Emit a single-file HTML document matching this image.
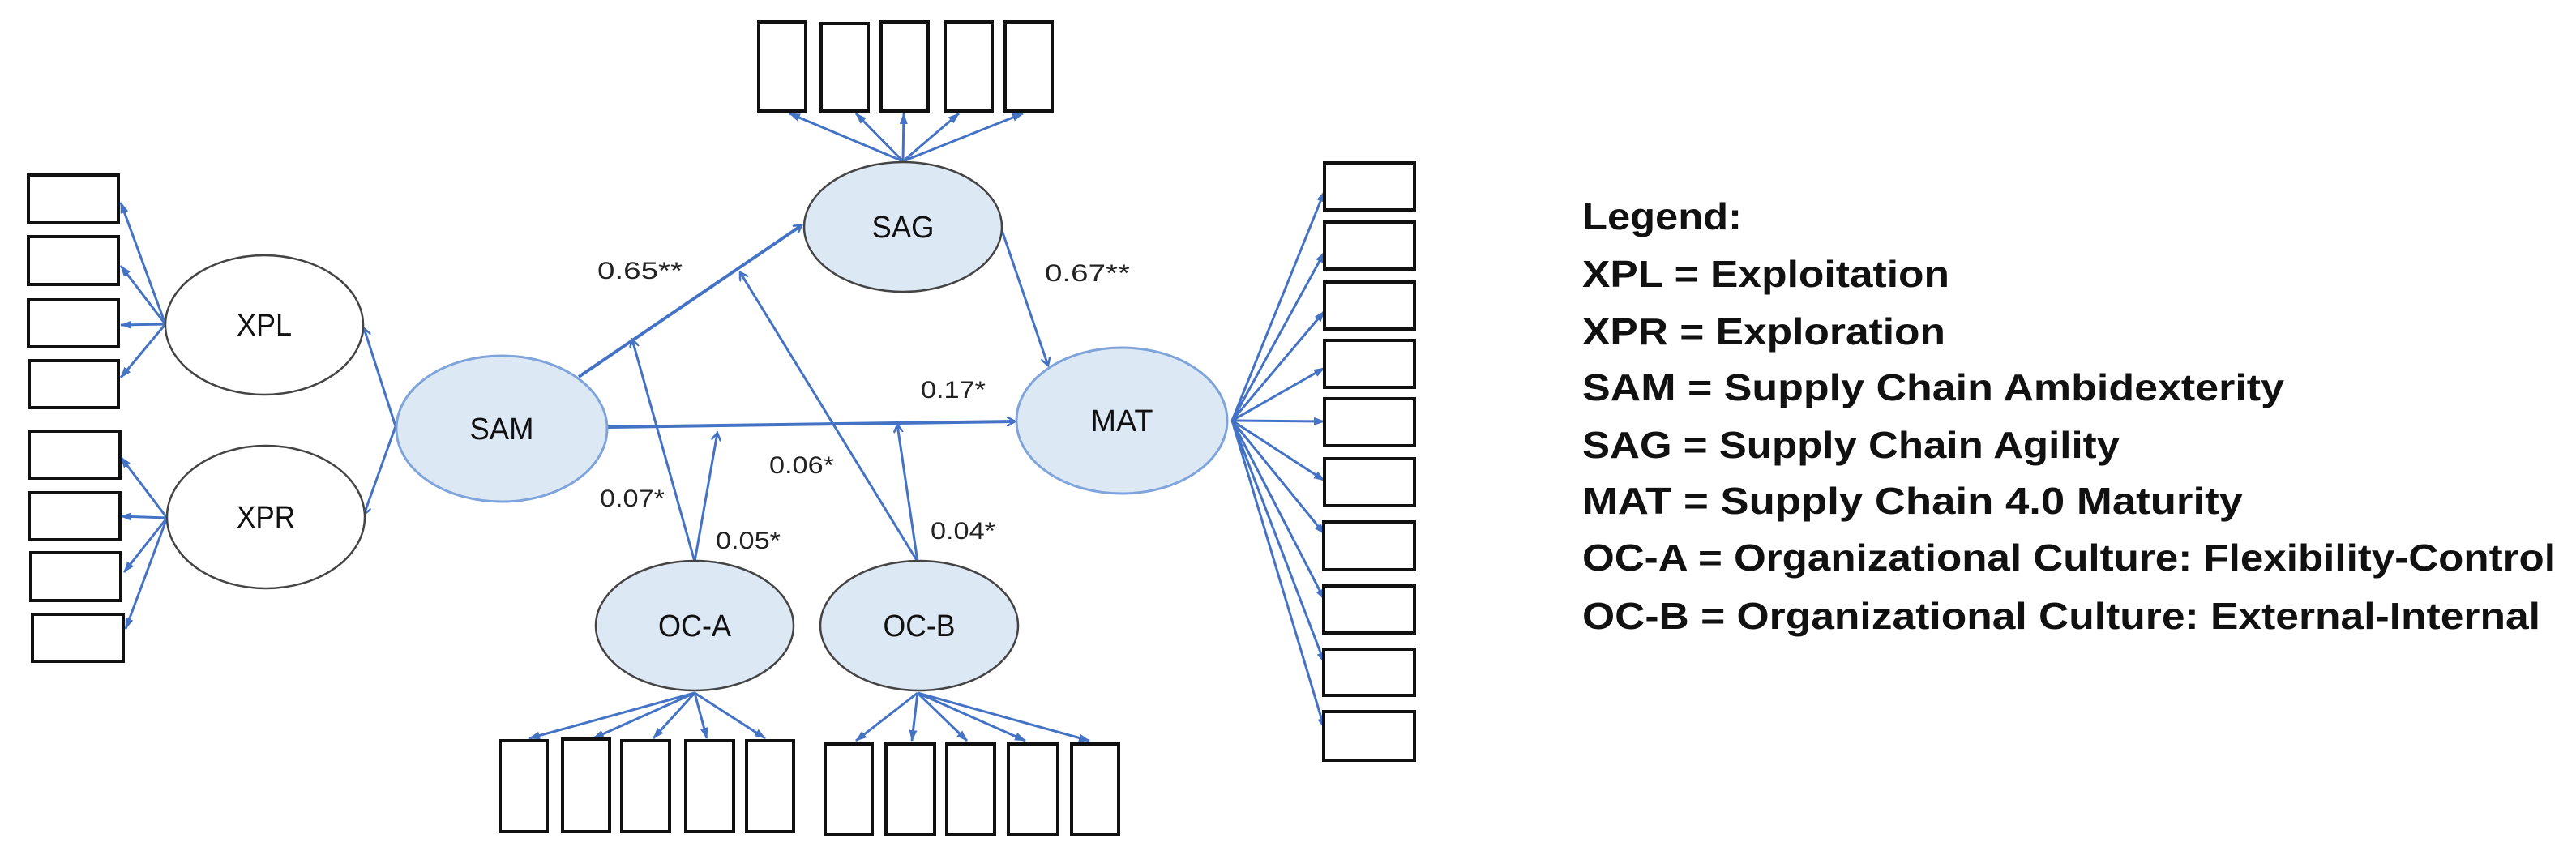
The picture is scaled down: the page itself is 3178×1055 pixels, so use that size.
<!DOCTYPE html>
<html><head><meta charset="utf-8"><style>html,body{margin:0;padding:0;background:#fff}svg{display:block}</style></head><body>
<svg width="3178" height="1055" viewBox="0 0 3178 1055" xmlns="http://www.w3.org/2000/svg" font-family="Liberation Sans, sans-serif">
<defs>
<marker id="o" markerWidth="12" markerHeight="12" refX="10" refY="6" orient="auto" markerUnits="userSpaceOnUse" viewBox="0 0 12 12"><path d="M0,0 L10,6 L0,12" fill="none" stroke="#4472C4" stroke-width="2.5"/></marker>
<marker id="f" markerWidth="14" markerHeight="12" refX="13" refY="6" orient="auto" markerUnits="userSpaceOnUse"><path d="M0,1 L14,6 L0,11 Z" fill="#4472C4"/></marker>
</defs>
<g stroke="#4472C4" stroke-width="3" fill="none">
<!-- structural -->
<line x1="714" y1="465" x2="989" y2="278" marker-end="url(#o)" stroke-width="4"/>
<line x1="750" y1="527" x2="1252" y2="520" marker-end="url(#o)" stroke-width="4"/>
<line x1="1236" y1="284" x2="1293" y2="451" marker-end="url(#o)"/>
<line x1="857" y1="693" x2="780" y2="419" marker-end="url(#o)"/>
<line x1="857" y1="693" x2="885" y2="534" marker-end="url(#o)"/>
<line x1="1132" y1="693" x2="913" y2="336" marker-end="url(#o)"/>
<line x1="1132" y1="693" x2="1107" y2="524" marker-end="url(#o)"/>
<line x1="488" y1="526" x2="449" y2="405" marker-end="url(#o)"/>
<line x1="488" y1="526" x2="449" y2="635" marker-end="url(#o)"/>
<!-- loadings -->
<g marker-end="url(#f)">
<line x1="204" y1="400" x2="149" y2="250"/><line x1="204" y1="400" x2="149" y2="328"/><line x1="204" y1="400" x2="149" y2="401"/><line x1="204" y1="400" x2="149" y2="466"/>
<line x1="206" y1="639" x2="149" y2="564"/><line x1="206" y1="639" x2="149" y2="637"/><line x1="206" y1="639" x2="153" y2="706"/><line x1="206" y1="639" x2="155" y2="776"/>
<line x1="1114" y1="199" x2="974" y2="140"/><line x1="1114" y1="199" x2="1056" y2="140"/><line x1="1114" y1="199" x2="1115" y2="140"/><line x1="1114" y1="199" x2="1183" y2="140"/><line x1="1114" y1="199" x2="1262" y2="140"/>
<line x1="857" y1="855" x2="653" y2="911"/><line x1="857" y1="855" x2="732" y2="911"/><line x1="857" y1="855" x2="806" y2="911"/><line x1="857" y1="855" x2="872" y2="911"/><line x1="857" y1="855" x2="944" y2="911"/>
<line x1="1132" y1="855" x2="1056" y2="914"/><line x1="1132" y1="855" x2="1125" y2="914"/><line x1="1132" y1="855" x2="1193" y2="914"/><line x1="1132" y1="855" x2="1265" y2="914"/><line x1="1132" y1="855" x2="1344" y2="914"/>
<line x1="1520" y1="519" x2="1634" y2="236"/><line x1="1520" y1="519" x2="1634" y2="311"/><line x1="1520" y1="519" x2="1634" y2="384"/><line x1="1520" y1="519" x2="1634" y2="454"/><line x1="1520" y1="519" x2="1634" y2="520"/><line x1="1520" y1="519" x2="1634" y2="593"/><line x1="1520" y1="519" x2="1634" y2="659"/><line x1="1520" y1="519" x2="1634" y2="740"/><line x1="1520" y1="519" x2="1634" y2="818"/><line x1="1520" y1="519" x2="1634" y2="899"/>
</g>
</g>
<!-- boxes -->
<g fill="#fff" stroke="#111" stroke-width="4">
<rect x="35" y="216" width="111" height="59"/><rect x="35" y="292" width="111" height="59"/><rect x="35" y="370" width="111" height="58"/><rect x="36" y="445" width="110" height="58"/>
<rect x="36" y="532" width="112" height="58"/><rect x="36" y="608" width="112" height="58"/><rect x="38" y="682" width="111" height="59"/><rect x="40" y="758" width="112" height="58"/>
<rect x="936" y="27" width="58" height="110"/><rect x="1013" y="29" width="58" height="108"/><rect x="1087" y="27" width="58" height="110"/><rect x="1166" y="27" width="58" height="110"/><rect x="1240" y="27" width="58" height="110"/>
<rect x="617" y="914" width="58" height="112"/><rect x="694" y="912" width="58" height="114"/><rect x="767" y="914" width="59" height="112"/><rect x="846" y="914" width="59" height="112"/><rect x="921" y="914" width="58" height="112"/>
<rect x="1018" y="918" width="58" height="112"/><rect x="1093" y="918" width="60" height="112"/><rect x="1168" y="918" width="59" height="112"/><rect x="1244" y="918" width="61" height="112"/><rect x="1322" y="918" width="58" height="112"/>
<rect x="1634" y="201" width="111" height="58"/><rect x="1634" y="274" width="111" height="58"/><rect x="1634" y="348" width="111" height="58"/><rect x="1634" y="420" width="111" height="58"/><rect x="1634" y="492" width="111" height="58"/><rect x="1634" y="566" width="111" height="58"/><rect x="1633" y="644" width="112" height="59"/><rect x="1633" y="723" width="112" height="58"/><rect x="1633" y="801" width="112" height="57"/><rect x="1633" y="878" width="112" height="60"/>
</g>
<!-- ellipses -->
<ellipse cx="326" cy="401" rx="122" ry="86" fill="#fff" stroke="#444" stroke-width="2.5"/>
<ellipse cx="328" cy="638" rx="122" ry="88" fill="#fff" stroke="#444" stroke-width="2.5"/>
<ellipse cx="619" cy="529" rx="130" ry="90" fill="#dde8f5" stroke="#7fa4dc" stroke-width="3"/>
<ellipse cx="1384" cy="519" rx="130" ry="90" fill="#dde8f5" stroke="#7fa4dc" stroke-width="3"/>
<ellipse cx="1114" cy="280" rx="122" ry="80" fill="#dde8f5" stroke="#444" stroke-width="2.5"/>
<ellipse cx="857" cy="772" rx="122" ry="80" fill="#dde8f5" stroke="#444" stroke-width="2.5"/>
<ellipse cx="1134" cy="772" rx="122" ry="80" fill="#dde8f5" stroke="#444" stroke-width="2.5"/>
<g font-size="38" fill="#111" text-anchor="middle" lengthAdjust="spacingAndGlyphs">
<text x="326" y="414" textLength="68" lengthAdjust="spacingAndGlyphs">XPL</text>
<text x="328" y="651" textLength="72" lengthAdjust="spacingAndGlyphs">XPR</text>
<text x="619" y="542" textLength="79" lengthAdjust="spacingAndGlyphs">SAM</text>
<text x="1384" y="532" textLength="77" lengthAdjust="spacingAndGlyphs">MAT</text>
<text x="1114" y="293" textLength="77" lengthAdjust="spacingAndGlyphs">SAG</text>
<text x="857" y="785" textLength="90" lengthAdjust="spacingAndGlyphs">OC-A</text>
<text x="1134" y="785" textLength="89" lengthAdjust="spacingAndGlyphs">OC-B</text>
</g>
<g font-size="30" fill="#222">
<text x="737" y="344" textLength="105" lengthAdjust="spacingAndGlyphs">0.65**</text>
<text x="1289" y="347" textLength="105" lengthAdjust="spacingAndGlyphs">0.67**</text>
<text x="1136" y="491" textLength="80" lengthAdjust="spacingAndGlyphs">0.17*</text>
<text x="949" y="584" textLength="80" lengthAdjust="spacingAndGlyphs">0.06*</text>
<text x="740" y="625" textLength="80" lengthAdjust="spacingAndGlyphs">0.07*</text>
<text x="883" y="677" textLength="80" lengthAdjust="spacingAndGlyphs">0.05*</text>
<text x="1148" y="665" textLength="80" lengthAdjust="spacingAndGlyphs">0.04*</text>
</g>
<g font-size="46" font-weight="bold" fill="#111">
<text x="1952" y="283" textLength="197" lengthAdjust="spacingAndGlyphs">Legend:</text>
<text x="1952" y="354" textLength="453" lengthAdjust="spacingAndGlyphs">XPL = Exploitation</text>
<text x="1952" y="425" textLength="448" lengthAdjust="spacingAndGlyphs">XPR = Exploration</text>
<text x="1952" y="494" textLength="866" lengthAdjust="spacingAndGlyphs">SAM = Supply Chain Ambidexterity</text>
<text x="1952" y="565" textLength="663" lengthAdjust="spacingAndGlyphs">SAG = Supply Chain Agility</text>
<text x="1952" y="634" textLength="815" lengthAdjust="spacingAndGlyphs">MAT = Supply Chain 4.0 Maturity</text>
<text x="1952" y="704" textLength="1201" lengthAdjust="spacingAndGlyphs">OC-A = Organizational Culture: Flexibility-Control</text>
<text x="1952" y="776" textLength="1182" lengthAdjust="spacingAndGlyphs">OC-B = Organizational Culture: External-Internal</text>
</g>
</svg>
</body></html>
